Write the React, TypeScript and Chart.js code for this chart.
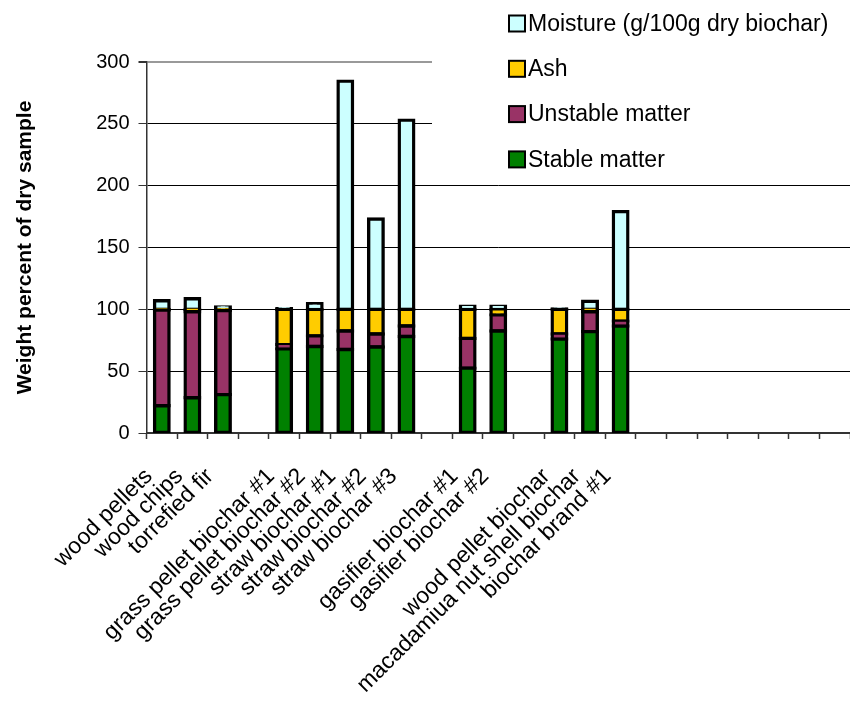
import React, { useEffect, useRef } from 'react';
import { Chart, registerables } from 'chart.js';

Chart.register(...registerables);

const categories = [
  'wood pellets', 'wood chips', 'torrefied fir', '',
  'grass pellet biochar #1', 'grass pellet biochar #2',
  'straw biochar #1', 'straw biochar #2', 'straw biochar #3', '',
  'gasifier biochar #1', 'gasifier biochar #2', '',
  'wood pellet biochar', 'macadamiua nut shell biochar', 'biochar brand #1',
  '', '', '', '', '', '', '',
];

const stableMatter = [22, 28.5, 31, null, 68, 70, 67.5, 69.5, 78, null, 52.5, 82.5, null, 76, 82, 86.5, null, null, null, null, null, null, null];
const unstableMatter = [77.5, 69.5, 68, null, 3.5, 8.5, 15, 10.5, 8.5, null, 24, 13, null, 4, 16, 4, null, null, null, null, null, null, null];
const ash = [0.5, 2, 1, null, 28.5, 21.5, 17.5, 20, 13.5, null, 23.5, 4.5, null, 20, 2, 9.5, null, null, null, null, null, null, null];
const moisture = [7, 8.5, 2, null, 0.5, 4.5, 184.5, 73, 153, null, 2.5, 2.5, null, 0.3, 6.5, 79, null, null, null, null, null, null, null];

const yTicks = [0, 50, 100, 150, 200, 250, 300];

const FONT = '"Liberation Sans", Arial, sans-serif';

const legendPlugin = {
  id: 'boxLegend',
  afterDraw(chart: any) {
    const ctx = chart.ctx;
    ctx.save();
    ctx.fillStyle = '#ffffff';
    ctx.fillRect(432, 0, chart.width - 432, 183);
    const items = [...chart.data.datasets].reverse();
    items.forEach((ds: any, i: number) => {
      const cy = 23.5 + i * 45.3;
      ctx.fillStyle = ds.backgroundColor;
      ctx.fillRect(509, cy - 8, 16, 16);
      ctx.strokeStyle = '#000';
      ctx.lineWidth = 2;
      ctx.strokeRect(509, cy - 8, 16, 16);
      ctx.fillStyle = '#000';
      ctx.font = '23px ' + FONT;
      ctx.textBaseline = 'middle';
      ctx.textAlign = 'left';
      ctx.fillText(ds.label, 528, cy + 1);
    });
    ctx.restore();
  },
};

export default function App() {
  const ref = useRef<HTMLCanvasElement>(null);

  useEffect(() => {
    if (!ref.current) return;
    const common = {
      borderColor: '#000', borderWidth: 3.4, inflateAmount: 1.7, borderSkipped: false,
      categoryPercentage: 1, barPercentage: 0.475,
    };
    const chart = new Chart(ref.current, {
      type: 'bar',
      data: {
        labels: categories,
        datasets: [
          { label: 'Stable matter', data: stableMatter, backgroundColor: '#008000', ...common },
          { label: 'Unstable matter', data: unstableMatter, backgroundColor: '#993366', ...common },
          { label: 'Ash', data: ash, backgroundColor: '#FFCC00', ...common },
          { label: 'Moisture (g/100g dry biochar)', data: moisture, backgroundColor: '#CCFFFF', ...common },
        ] as any,
      },
      options: {
        responsive: false,
        animation: false,
        devicePixelRatio: 1,
        layout: { padding: { top: 62, left: 0, right: 0, bottom: 0 } },
        plugins: { legend: { display: false }, tooltip: { enabled: false } },
        scales: {
          x: {
            stacked: true,
            grid: { display: true, drawOnChartArea: false, drawTicks: true, tickLength: 6, tickColor: '#333', tickWidth: 1.5, offset: true },
            border: { display: true, color: '#333', width: 2 },
            ticks: {
              autoSkip: false, maxRotation: 45, minRotation: 45, padding: 24, labelOffset: -13,
              color: '#000', font: { family: FONT, size: 23 },
            },
            afterFit: (s: any) => { s.height = 269; s.paddingRight = 0; s.paddingLeft = 0; },
          },
          y: {
            stacked: true, min: 0, max: 300,
            afterBuildTicks: (s: any) => { s.ticks = yTicks.map((v) => ({ value: v })); },
            ticks: { padding: 9, color: '#000', font: { family: FONT, size: 20 } },
            grid: {
              color: (c: any) => (c.tick && c.tick.value === 300 ? '#999' : '#000'),
              lineWidth: (c: any) => (c.tick && c.tick.value === 300 ? 2 : 1),
              tickLength: 8, tickColor: '#333',
            },
            border: { display: true, color: '#333', width: 1.5 },
            title: {
              display: true, text: 'Weight percent of dry sample', color: '#000',
              font: { family: FONT, size: 21, weight: 'bold' }, padding: { top: 13, bottom: 0 },
            },
            afterFit: (s: any) => { s.width = 146.5; },
          },
        },
      } as any,
      plugins: [legendPlugin],
    });
    return () => chart.destroy();
  }, []);

  return (
    <div style={{ position: 'fixed', left: 0, top: 0, width: 850, height: 702, background: '#fff' }}>
      <canvas ref={ref} width={850} height={702} />
    </div>
  );
}
